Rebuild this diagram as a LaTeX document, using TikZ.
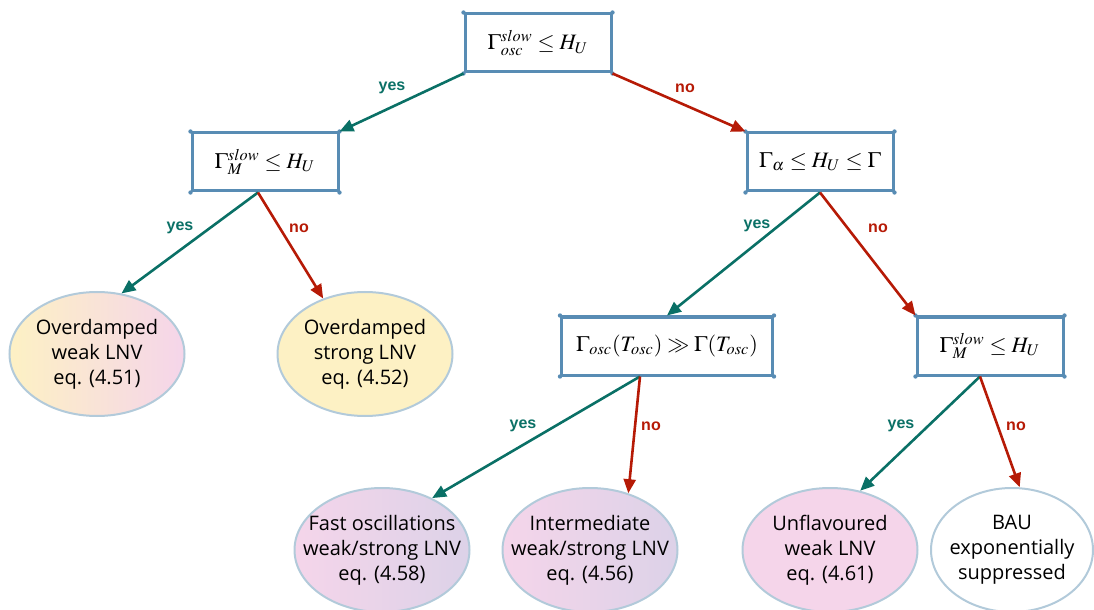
\documentclass[tikz,border=0pt]{standalone}
\usepackage{amsmath,amssymb}
\usepackage{mathptmx}
\usepackage[no-math]{fontspec}
\setmainfont{Open Sans}
\setsansfont{Liberation Sans}
\usepackage[svgnames]{xcolor}
\usetikzlibrary{positioning}
\usetikzlibrary{arrows.meta}
\usetikzlibrary{shapes.geometric}
\definecolor{boxblue}{RGB}{88,140,180}
\definecolor{ellline}{RGB}{178,202,218}
\definecolor{yesgreen}{RGB}{10,112,102}
\definecolor{nored}{RGB}{182,26,6}
\definecolor{mustard}{RGB}{253,241,196}
\definecolor{blush}{RGB}{245,213,234}
\definecolor{lilac}{RGB}{220,210,232}
\tikzset{
    cond/.style={draw=boxblue, line width=1.5pt, fill=white,
        minimum width=73pt, minimum height=29pt, inner sep=2pt,
        font=\fontsize{11}{13}\selectfont},
    leaf/.style={ellipse, draw=ellline, line width=1pt,
        minimum width=87.5pt, minimum height=62pt,
        inner xsep=-14pt, inner ysep=0pt,
        align=center, font=\fontsize{10}{12.5}\selectfont},
    yesarrow/.style={draw=yesgreen, line width=1.3pt,
        -{Triangle[length=7pt,width=6pt]}, yesgreen},
    noarrow/.style={draw=nored, line width=1.3pt,
        -{Triangle[length=7pt,width=6pt]}, nored},
    yeslabel/.style={text=yesgreen, font=\sffamily\bfseries\fontsize{8}{9}\selectfont},
    nolabel/.style={text=nored, font=\sffamily\bfseries\fontsize{8}{9}\selectfont},
}
\begin{document}
\begin{tikzpicture}[x=0.5pt, y=-0.5pt]
    \useasboundingbox (0,0) rectangle (1094,610);
    % conditions
    \node[cond] (top) at (538,43) {$\Gamma_{osc}^{slow}\leq H_U$};
    \node[cond] (slowM) at (265,162) {$\Gamma_M^{slow}\leq H_U$};
    \node[cond] (alpha) at (820,162) {$\Gamma_\alpha\leq H_U\leq\Gamma$};
    \node[cond, minimum width=105.5pt] (osc) at (667,346) {$\Gamma_{osc}(T_{osc})\gg\Gamma(T_{osc})$};
    \node[cond] (slowMb) at (990,346) {$\Gamma_M^{slow}\leq H_U$};
    \foreach \n in {top,slowM,alpha,osc,slowMb} {
        \foreach \a in {north west,north east,south west,south east}
            \fill[boxblue] (\n.\a) circle (1.1pt);
    }
    % outcomes
    \node[leaf, left color=mustard, right color=blush] (odweak) at (97,354) {Overdamped\\weak LNV\\eq. (4.51)};
    \node[leaf, fill=mustard] (odstrong) at (365,354) {Overdamped\\strong LNV\\eq. (4.52)};
    \node[leaf, left color=blush, right color=lilac] (fast) at (382,550) {Fast oscillations\\weak/strong LNV\\eq. (4.58)};
    \node[leaf, left color=blush, right color=lilac] (inter) at (590,550) {Intermediate\\weak/strong LNV\\eq. (4.56)};
    \node[leaf, fill=blush] (unfl) at (830,550) {Unflavoured\\weak LNV\\eq. (4.61)};
    \node[leaf, fill=white, minimum width=81pt] (bau) at (1012,550) {BAU\\exponentially\\suppressed};
    % branches
    \draw[yesarrow] (top.south west) -- (slowM.north east);
    \draw[noarrow] (top.south east) -- (alpha.north west);
    \draw[yesarrow] ([xshift=-3.5pt]slowM.south) -- (odweak.68);
    \draw[noarrow] ([xshift=-3.5pt]slowM.south) -- (odstrong.127);
    \draw[yesarrow] (alpha.south) -- (osc.north);
    \draw[noarrow] (alpha.south) -- (slowMb.north west);
    \draw[yesarrow] ([xshift=-13.5pt]osc.south) -- (fast.46);
    \draw[noarrow] ([xshift=-13.5pt]osc.south) -- (inter.56);
    \draw[yesarrow] ([xshift=-5pt]slowMb.south) -- (unfl.63);
    \draw[noarrow] ([xshift=-5pt]slowMb.south) -- (bau.83);
    % labels
    \node[yeslabel] (y1) at (392,88) {yes};
    \node[nolabel] (n1) at (685,88) {no};
    \node[yeslabel] (y2) at (180,228) {yes};
    \node[nolabel] (n2) at (299,228) {no};
    \node[yeslabel] (y3) at (757,226) {yes};
    \node[nolabel] (n3) at (878,228) {no};
    \node[yeslabel] (y4) at (523,426) {yes};
    \node[nolabel] (n4) at (651,426) {no};
    \node[yeslabel] (y5) at (901,426) {yes};
    \node[nolabel] (n5) at (1016,426) {no};
\end{tikzpicture}
\end{document}
